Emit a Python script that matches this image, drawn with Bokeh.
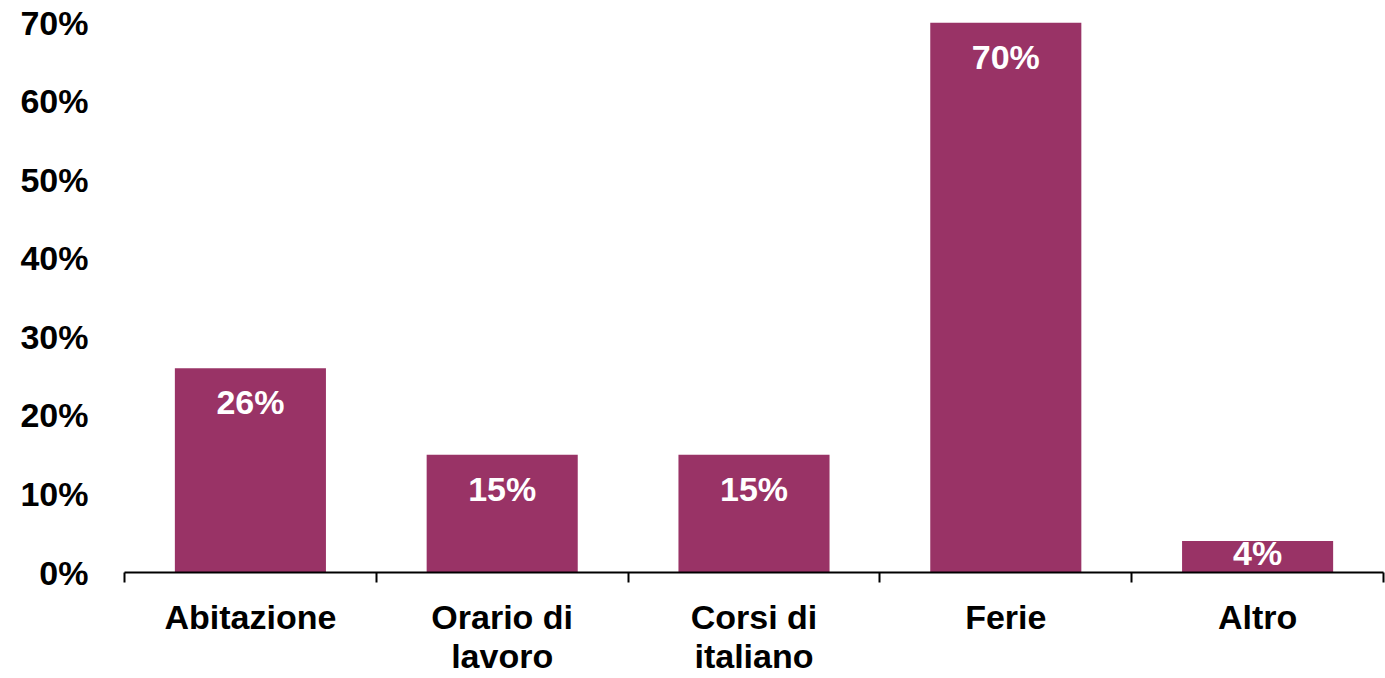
from bokeh.plotting import figure
from bokeh.models import (ColumnDataSource, Range1d, LinearAxis,
                          FixedTicker, PrintfTickFormatter)
from bokeh.core.properties import value
from bokeh.embed import file_html
from bokeh.resources import INLINE

categories = ["Abitazione", "Orario di\nlavoro", "Corsi di\nitaliano", "Ferie", "Altro"]
values = [26, 15, 15, 70, 4]
y_ticks = [0, 10, 20, 30, 40, 50, 60, 70]

BAR = "#993366"
FONT = "Liberation Sans"
FS = "34px"

n = len(categories)
centers = [i + 0.5 for i in range(n)]
labels = [f"{v}%" for v in values]
label_offsets = [34 if v > 10 else 12 for v in values]
src = ColumnDataSource(dict(x=centers, val=values, lab=labels, off=label_offsets))

p = figure(width=1385, height=678, output_backend="svg", toolbar_location=None,
           x_range=Range1d(0, n), y_range=Range1d(0, 70),
           x_axis_location=None, y_axis_location="left",
           min_border_left=124, min_border_right=2, min_border_top=22, min_border_bottom=0)
p.outline_line_color = None
p.grid.visible = False
p.background_fill_color = "white"
p.border_fill_color = "white"

p.vbar(x="x", top="val", width=0.6, source=src, fill_color=BAR, line_color=None)
p.text(x="x", y="val", text="lab", source=src, y_offset="off",
       text_align="center", text_baseline="middle", text_color="white",
       text_font=value(FONT), text_font_size=FS, text_font_style="bold")

# y axis
ya = p.yaxis[0]
ya.ticker = FixedTicker(ticks=y_ticks)
ya.formatter = PrintfTickFormatter(format="%d%%")
ya.axis_line_color = None
ya.major_tick_line_color = None
ya.minor_tick_line_color = None
ya.major_label_standoff = 30
ya.major_label_text_font = FONT
ya.major_label_text_font_size = FS
ya.major_label_text_font_style = "bold"
ya.major_label_text_color = "black"

# boundary-tick axis (closest to plot)
edges = list(range(n + 1))
ea = LinearAxis(ticker=FixedTicker(ticks=edges),
                major_label_overrides={e: "" for e in edges})
ea.axis_line_color = "black"
ea.axis_line_width = 2
ea.major_tick_line_color = "black"
ea.major_tick_line_width = 2
ea.major_tick_out = 10
ea.major_tick_in = 0
ea.minor_tick_line_color = None
ea.major_label_text_font_size = "1px"
ea.major_label_standoff = 0
p.add_layout(ea, "below")

# category label axis
ca = LinearAxis(ticker=FixedTicker(ticks=centers),
                major_label_overrides={c: name for c, name in zip(centers, categories)})
ca.axis_line_color = None
ca.major_tick_line_color = None
ca.minor_tick_line_color = None
ca.major_label_standoff = 9
ca.major_label_text_font = FONT
ca.major_label_text_font_size = FS
ca.major_label_text_font_style = "bold"
ca.major_label_text_color = "black"
ca.major_label_text_line_height = 1.05
p.add_layout(ca, "below")

open("out.html", "w").write(file_html(p, INLINE))
